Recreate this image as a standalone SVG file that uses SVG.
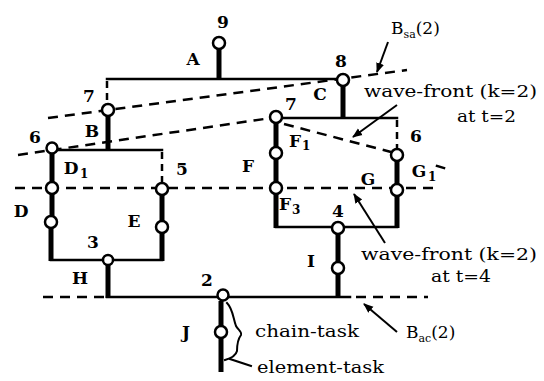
<svg xmlns="http://www.w3.org/2000/svg" width="544" height="381" viewBox="0 0 544 381">
<style>
.bg{fill:#fff}
.ln{stroke:#000;stroke-width:2.5;fill:none;stroke-linecap:square}
.stem{stroke:#000;stroke-width:5;fill:none}
.dash{stroke:#000;stroke-width:2.5;fill:none;stroke-dasharray:10,7}
.vd{stroke:#000;stroke-width:2.5;fill:none;stroke-dasharray:7,5}
.arr{stroke:#000;stroke-width:2;fill:none;marker-end:url(#ah)}
.nd{fill:#fff;stroke:#000;stroke-width:2.5}
.lb{font-family:"DejaVu Serif","Liberation Serif",serif;font-size:17px;font-weight:bold;fill:#000;text-anchor:middle}
.sub{font-family:"DejaVu Serif","Liberation Serif",serif;font-size:12px;font-weight:bold;fill:#000}
.tx{font-family:"DejaVu Serif","Liberation Serif",serif;font-size:17px;fill:#000}
.ts{font-family:"DejaVu Serif","Liberation Serif",serif;font-size:11px;fill:#000}
</style>
<defs>
<marker id="ah" viewBox="0 0 10 10" refX="9" refY="5" markerWidth="5" markerHeight="5" orient="auto" markerUnits="strokeWidth">
<path d="M0,1 L10,5 L0,9 z" fill="#000"/>
</marker>
</defs>
<rect class="bg" width="544" height="381"/>

<g id="connectors">
<!-- A -->
<path class="ln" d="M107,79 H337"/>
<path class="vd" d="M107,81 V103"/>
<!-- B -->
<path class="ln" d="M58,150 H162"/>
<path class="vd" d="M162,152 V182"/>
<!-- D/E join H -->
<path class="ln" d="M51,260 H162"/>
<!-- C -->
<path class="ln" d="M283,118 H397"/>
<path class="vd" d="M397,120 V149"/>
<!-- F/G join -->
<path class="ln" d="M276,227 H397"/>
<!-- bottom line Bac -->
<path class="ln" d="M107,297 H350"/>
<path class="dash" d="M43,297 H105"/>
<path class="dash" d="M356,297 H428"/>
<!-- horizontal wave-front t=4 -->
<path class="dash" d="M15,188 H433"/>
<!-- Bsa(2) -->
<path class="dash" d="M48,118 L407,70"/>
<!-- wave-front t=2 -->
<path class="dash" d="M18,155 L271,118"/>
<path class="dash" d="M284,124 L391,152"/>
<path class="ln" d="M437,166 L444,168"/>
<!-- stems -->
<path class="stem" d="M219,49 V79"/>
<path class="stem" d="M108,116 V150"/>
<path class="stem" d="M52,154 V182"/>
<path class="stem" d="M52,194 V216"/>
<path class="stem" d="M51,228 V261"/>
<path class="stem" d="M162,195 V221"/>
<path class="stem" d="M162,233 V261"/>
<path class="stem" d="M108,265 V298"/>
<path class="stem" d="M343,86 V118"/>
<path class="stem" d="M276,123 V147"/>
<path class="stem" d="M276,159 V182"/>
<path class="stem" d="M276,194 V228"/>
<path class="stem" d="M397,161 V184"/>
<path class="stem" d="M397,196 V228"/>
<path class="stem" d="M338,234 V262"/>
<path class="stem" d="M338,274 V298"/>
<path class="stem" d="M221,301 V326"/>
<path class="stem" d="M221,338 V372"/>
<!-- brace -->
<path class="ln" style="stroke-width:2" d="M227,303 C233,309 233,318 236,326 C238,330 242,331 241,335 C238,339 237,345 237,351 C236,355 232,358 225,360"/>
<path class="ln" style="stroke-width:2" d="M230,359 L251,366"/>
<!-- annotation arrows -->
<path class="arr" d="M388,42 L377,72"/>
<path class="arr" d="M397,105 L353,137"/>
<path class="arr" d="M385,243 L354,194"/>
<path class="arr" d="M397,332 L364,304"/>
</g>

<g id="n9"><circle class="nd" cx="219" cy="43" r="6"/><text class="lb" x="223" y="28">9</text></g>
<g id="nA"><text class="lb" x="193" y="65">A</text></g>
<g id="n8"><circle class="nd" cx="343" cy="80" r="6"/><text class="lb" x="341" y="67">8</text></g>
<g id="nC"><text class="lb" x="320" y="100">C</text></g>
<g id="n7a"><circle class="nd" cx="108" cy="110" r="6"/><text class="lb" x="89" y="102">7</text></g>
<g id="nB"><text class="lb" x="92" y="137">B</text></g>
<g id="n6a"><circle class="nd" cx="52" cy="148" r="5.5"/><text class="lb" x="35" y="143">6</text></g>
<g id="nD1"><text class="lb" x="71" y="174">D</text><text class="sub" x="80" y="178">1</text></g>
<g id="nDm"><circle class="nd" cx="52" cy="188" r="6"/></g>
<g id="nD"><circle class="nd" cx="51" cy="222" r="6"/><text class="lb" x="21" y="217">D</text></g>
<g id="n5"><circle class="nd" cx="162" cy="189" r="6"/><text class="lb" x="182" y="175">5</text></g>
<g id="nE"><circle class="nd" cx="162" cy="227" r="6"/><text class="lb" x="134" y="227">E</text></g>
<g id="n3"><circle class="nd" cx="108" cy="260" r="5"/><text class="lb" x="93" y="248">3</text></g>
<g id="nH"><text class="lb" x="80" y="284">H</text></g>
<g id="n2"><circle class="nd" cx="223" cy="295" r="5.5"/><text class="lb" x="207" y="286">2</text></g>
<g id="nJ"><circle class="nd" cx="221" cy="332" r="6"/><text class="lb" x="186" y="338">J</text></g>
<g id="n7b"><circle class="nd" cx="276" cy="117" r="6"/><text class="lb" x="291" y="110">7</text></g>
<g id="nF1"><text class="lb" x="295" y="147">F</text><text class="sub" x="302" y="150">1</text></g>
<g id="nF"><circle class="nd" cx="276" cy="153" r="6"/><text class="lb" x="248" y="172">F</text></g>
<g id="nF3"><circle class="nd" cx="276" cy="188" r="6"/><text class="lb" x="285" y="210">F</text><text class="sub" x="292" y="214">3</text></g>
<g id="n6b"><circle class="nd" cx="397" cy="155" r="6"/><text class="lb" x="416" y="142">6</text></g>
<g id="nG1"><text class="lb" x="419" y="177">G</text><text class="sub" x="428" y="181">1</text></g>
<g id="nG"><circle class="nd" cx="397" cy="190" r="6"/><text class="lb" x="368" y="185">G</text></g>
<g id="n4"><circle class="nd" cx="338" cy="228" r="6"/><text class="lb" x="338" y="217">4</text></g>
<g id="nI"><circle class="nd" cx="338" cy="268" r="6"/><text class="lb" x="311" y="267">I</text></g>

<g id="labels">
<text class="tx" x="391" y="34">B<tspan class="ts" dy="4">sa</tspan><tspan dy="-4">(2)</tspan></text>
<text class="tx" x="364" y="97" textLength="173" lengthAdjust="spacingAndGlyphs">wave-front (k=2)</text>
<text class="tx" x="457" y="122" textLength="59" lengthAdjust="spacingAndGlyphs">at t=2</text>
<text class="tx" x="361" y="260" textLength="176" lengthAdjust="spacingAndGlyphs">wave-front (k=2)</text>
<text class="tx" x="431" y="282" textLength="60" lengthAdjust="spacingAndGlyphs">at t=4</text>
<text class="tx" x="406" y="338">B<tspan class="ts" dy="4">ac</tspan><tspan dy="-4">(2)</tspan></text>
<text class="tx" x="255" y="337" textLength="104" lengthAdjust="spacingAndGlyphs">chain-task</text>
<text class="tx" x="257" y="373" textLength="127" lengthAdjust="spacingAndGlyphs">element-task</text>
</g>
</svg>
